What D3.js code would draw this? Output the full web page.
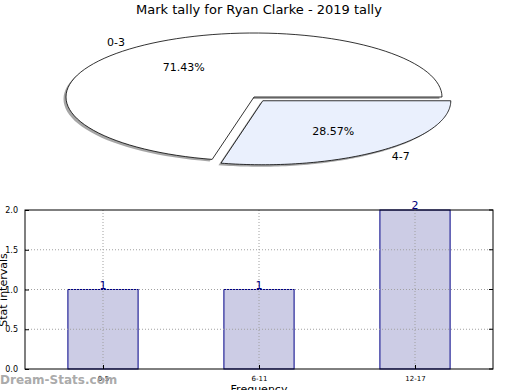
<!DOCTYPE html>
<html>
<head>
<meta charset="utf-8">
<script src="https://cdn.jsdelivr.net/npm/d3@7"></script>
<style>
  body { margin: 0; background: #ffffff; }
  svg { display: block; font-family: "DejaVu Sans", sans-serif; }
</style>
</head>
<body>
<svg id="chart" width="520" height="390"></svg>
<script>
'use strict';

// pie data
const pieLabels = ["0-3", "4-7"];
const pieValues = [5, 2];
const pieColors = ["#ffffff", "#eaf0fd"];
const pieExplode = [0, 0.075];

// bar data
const barCategories = ["0-5", "6-11", "12-17"];
const barValues = [1, 1, 2];
const yTicks = [0, 0.5, 1.0, 1.5, 2.0];

{ // start scope

const svg = d3.select("#chart");

//------------------------------------------------------------
// title + pie (ellipse-squashed, matplotlib style)
//------------------------------------------------------------
svg.append("text")
    .attr("x", 259).attr("y", 14)
    .attr("text-anchor", "middle")
    .attr("font-size", 13)
    .attr("fill", "#000")
    .text("Mark tally for Ryan Clarke - 2019 tally");

const cx = 254, cy = 97, rx = 188, ry = 64;
const total = d3.sum(pieValues);

// angles in math convention, counterclockwise from 3 o'clock
let start = 0;
const slices = pieValues.map((v, i) => {
    const a0 = start;
    const a1 = start + v / total * 2 * Math.PI;
    start = a1;
    return { i: i, a0: a0, a1: a1, mid: (a0 + a1) / 2, value: v };
});

function slicePath(s) {
    const p = d3.path();
    const ox = pieExplode[s.i] * rx * Math.cos(s.mid);
    const oy = -pieExplode[s.i] * ry * Math.sin(s.mid);
    const steps = 90;
    p.moveTo(cx + ox, cy + oy);
    for (let k = 0; k <= steps; ++k) {
        const a = s.a0 + (s.a1 - s.a0) * k / steps;
        p.lineTo(cx + ox + rx * Math.cos(a), cy + oy - ry * Math.sin(a));
    }
    p.closePath();
    return p.toString();
}

const pieG = svg.append("g");

// shadows
pieG.selectAll("path.shadow")
    .data(slices)
    .enter()
    .append("path")
    .attr("class", "shadow")
    .attr("d", slicePath)
    .attr("transform", "translate(-2.5,2)")
    .attr("fill", "#4d4d4d")
    .attr("fill-opacity", 0.5)
    .attr("stroke", "none");

pieG.selectAll("path.slice")
    .data(slices)
    .enter()
    .append("path")
    .attr("class", "slice")
    .attr("d", slicePath)
    .attr("fill", (d) => pieColors[d.i])
    .attr("stroke", "#000")
    .attr("stroke-width", 0.8)
    .attr("stroke-linejoin", "miter");

// labels
slices.forEach((s) => {
    const ox = pieExplode[s.i] * rx * Math.cos(s.mid);
    const oy = -pieExplode[s.i] * ry * Math.sin(s.mid);
    const c = Math.cos(s.mid), sn = Math.sin(s.mid);
    pieG.append("text")
        .attr("x", cx + ox + 1.1 * rx * c)
        .attr("y", cy + oy - 1.1 * ry * sn)
        .attr("dy", "0.35em")
        .attr("text-anchor", c < 0 ? "end" : "start")
        .attr("font-size", 11)
        .text(pieLabels[s.i]);
    pieG.append("text")
        .attr("x", cx + ox + 0.6 * rx * c)
        .attr("y", cy + oy - 0.6 * ry * sn)
        .attr("dy", "0.35em")
        .attr("text-anchor", "middle")
        .attr("font-size", 11)
        .text((s.value / total * 100).toFixed(2) + "%");
});

//------------------------------------------------------------
// bar chart
//------------------------------------------------------------
const plotLeft = 25, plotRight = 493, plotTop = 210, plotBottom = 369;

const xScale = d3.scaleLinear().domain([-0.5, 2.5]).range([plotLeft, plotRight]);
const yScale = d3.scaleLinear().domain([0, 2]).range([plotBottom, plotTop]);
const barW = 0.45;

const barG = svg.append("g");

// bars
barG.selectAll("rect.bar")
    .data(barValues)
    .enter()
    .append("rect")
    .attr("class", "bar")
    .attr("x", (d, i) => xScale(i - barW / 2))
    .attr("width", (d, i) => xScale(i + barW / 2) - xScale(i - barW / 2))
    .attr("y", (d) => yScale(d))
    .attr("height", (d) => yScale(0) - yScale(d))
    .attr("fill", "#ccccE5")
    .attr("stroke", "#000088")
    .attr("stroke-width", 1);

// grid (drawn over bars)
barG.selectAll("line.xgrid")
    .data(barCategories)
    .enter()
    .append("line")
    .attr("class", "xgrid")
    .attr("x1", (d, i) => xScale(i)).attr("x2", (d, i) => xScale(i))
    .attr("y1", plotTop).attr("y2", plotBottom)
    .attr("stroke", "#a0a0a0")
    .attr("stroke-width", 1)
    .attr("stroke-dasharray", "1,2");

barG.selectAll("line.ygrid")
    .data(yTicks.slice(1, -1))
    .enter()
    .append("line")
    .attr("class", "ygrid")
    .attr("x1", plotLeft).attr("x2", plotRight)
    .attr("y1", (d) => yScale(d)).attr("y2", (d) => yScale(d))
    .attr("stroke", "#a0a0a0")
    .attr("stroke-width", 1)
    .attr("stroke-dasharray", "1,2");

// value labels
barG.selectAll("text.val")
    .data(barValues)
    .enter()
    .append("text")
    .attr("class", "val")
    .attr("x", (d, i) => xScale(i))
    .attr("y", (d) => yScale(d) - 1)
    .attr("text-anchor", "middle")
    .attr("font-size", 11)
    .attr("fill", "#000080")
    .text((d) => d);

// frame
barG.append("rect")
    .attr("x", plotLeft).attr("y", plotTop)
    .attr("width", plotRight - plotLeft).attr("height", plotBottom - plotTop)
    .attr("fill", "none")
    .attr("stroke", "#000")
    .attr("stroke-width", 1);

// axes
const yAxis = d3.axisLeft(yScale)
    .tickValues(yTicks)
    .tickFormat(d3.format(".1f"))
    .tickSizeInner(-4)
    .tickSizeOuter(0)
    .tickPadding(7);
const yAxisG = barG.append("g")
    .attr("transform", `translate(${plotLeft},0)`)
    .call(yAxis);
yAxisG.select(".domain").remove();
yAxisG.selectAll("text").attr("font-size", 8).attr("font-family", "DejaVu Sans");

// right-side ticks
barG.selectAll("line.rtick")
    .data(yTicks)
    .enter()
    .append("line")
    .attr("class", "rtick")
    .attr("x1", plotRight).attr("x2", plotRight - 4)
    .attr("y1", (d) => yScale(d)).attr("y2", (d) => yScale(d))
    .attr("stroke", "#000");

const xAxis = d3.axisBottom(xScale)
    .tickValues([0, 1, 2])
    .tickFormat((d) => barCategories[d])
    .tickSizeInner(-4)
    .tickSizeOuter(0)
    .tickPadding(7);
const xAxisG = barG.append("g")
    .attr("transform", `translate(0,${plotBottom})`)
    .call(xAxis);
xAxisG.select(".domain").remove();
xAxisG.selectAll("text").attr("font-size", 7).attr("font-family", "DejaVu Sans");

// axis titles
svg.append("text")
    .attr("x", 259).attr("y", 393)
    .attr("text-anchor", "middle")
    .attr("font-size", 11)
    .text("Frequency");

svg.append("text")
    .attr("transform", "translate(7,290) rotate(-90)")
    .attr("text-anchor", "middle")
    .attr("font-size", 11)
    .text("Stat intervals");

// watermark
svg.append("text")
    .attr("x", 0).attr("y", 384)
    .attr("font-size", 12)
    .attr("fill", "#a0a0a0")
    .attr("font-weight", "bold")
    .attr("fill-opacity", 0.9)
    .text("Dream-Stats.com");

} // end scope
</script>
</body>
</html>
